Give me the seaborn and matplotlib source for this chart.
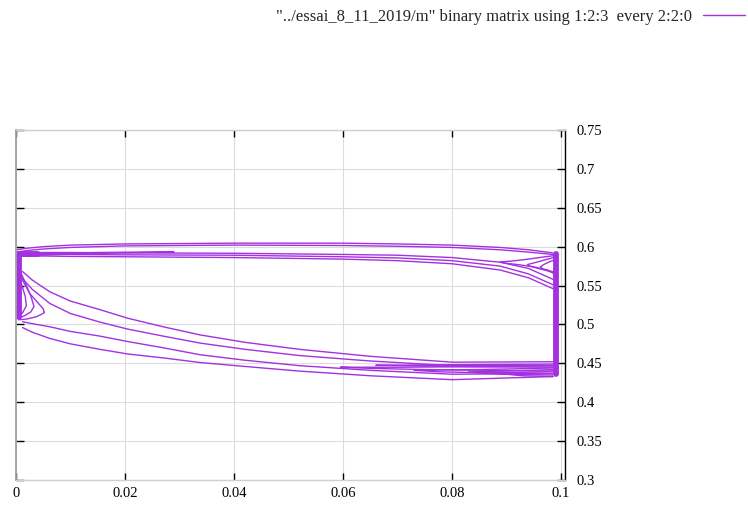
import numpy as np
import pandas as pd
import matplotlib
matplotlib.use("Agg")
import matplotlib.pyplot as plt
from matplotlib.lines import Line2D
import seaborn as sns

# --- Daten ---
legend_label = '"../essai_8_11_2019/m" binary matrix using 1:2:3  every 2:2:0'

x_ticks = [0.0, 0.02, 0.04, 0.06, 0.08, 0.1]
x_tick_labels = ["0", "0.02", "0.04", "0.06", "0.08", "0.1"]
y_ticks = [0.3, 0.35, 0.4, 0.45, 0.5, 0.55, 0.6, 0.65, 0.7, 0.75]
y_tick_labels = ["0.3", "0.35", "0.4", "0.45", "0.5", "0.55", "0.6", "0.65", "0.7", "0.75"]

# obere Kurven (gemeinsames x)
top_x = [0.0, 0.002, 0.005, 0.01, 0.02, 0.04, 0.06, 0.07, 0.08, 0.0888, 0.094, 0.0985]
top_1 = [0.596, 0.598, 0.600, 0.602, 0.6035, 0.6045, 0.6045, 0.6035, 0.602, 0.599, 0.596, 0.592]
top_2 = [0.593, 0.595, 0.597, 0.599, 0.601, 0.602, 0.6015, 0.6005, 0.599, 0.596, 0.593, 0.590]
top_3 = [0.592, 0.592, 0.5925, 0.5925, 0.592, 0.5915, 0.590, 0.589, 0.586, 0.580, 0.572, 0.558]
top_4 = [0.590, 0.590, 0.590, 0.590, 0.5895, 0.589, 0.587, 0.5855, 0.582, 0.575, 0.565, 0.551]
top_5 = [0.588, 0.588, 0.588, 0.5875, 0.587, 0.586, 0.584, 0.582, 0.578, 0.570, 0.560, 0.546]

# untere Kurven (gemeinsames x)
bottom_x = [0.0012, 0.003, 0.0062, 0.010, 0.0154, 0.0205, 0.027, 0.0338, 0.042, 0.052, 0.065, 0.08, 0.0985]
bottom_1 = [0.568, 0.557, 0.542, 0.530, 0.519, 0.508, 0.497, 0.4865, 0.477, 0.468, 0.459, 0.4515, 0.452]
bottom_2 = [0.559, 0.545, 0.527, 0.514, 0.503, 0.494, 0.485, 0.476, 0.468, 0.460, 0.453, 0.447, 0.447]
bottom_3 = [0.5035, 0.501, 0.497, 0.491, 0.485, 0.478, 0.470, 0.461, 0.454, 0.447, 0.441, 0.436, 0.437]
bottom_4 = [0.496, 0.490, 0.482, 0.475, 0.468, 0.462, 0.457, 0.451, 0.446, 0.440, 0.434, 0.429, 0.433]

# Schleifen links an der Wand
loop_l1_x = [0.0005, 0.002, 0.0038, 0.0052, 0.0050, 0.0040, 0.0025, 0.0012, 0.0005]
loop_l1_y = [0.506, 0.507, 0.510, 0.515, 0.520, 0.528, 0.540, 0.557, 0.572]
loop_l2_x = [0.0005, 0.0015, 0.0027, 0.0033, 0.0028, 0.0018, 0.0008]
loop_l2_y = [0.508, 0.511, 0.516, 0.523, 0.535, 0.552, 0.568]
loop_l3_x = [0.0005, 0.0012, 0.0019, 0.0017, 0.0010, 0.0005]
loop_l3_y = [0.510, 0.515, 0.524, 0.536, 0.552, 0.565]

# Ausläufer oben links
spur_top_x = [0.001, 0.008, 0.015, 0.022, 0.029, 0.022, 0.015, 0.008, 0.001]
spur_top_y = [0.590, 0.5915, 0.5925, 0.593, 0.593, 0.5923, 0.5915, 0.590, 0.588]

# Ausläufer oben rechts
spur_r1_x = [0.0993, 0.0965, 0.094, 0.091, 0.0888, 0.0895, 0.092, 0.095, 0.0975, 0.0985]
spur_r1_y = [0.589, 0.5865, 0.584, 0.5815, 0.5805, 0.579, 0.577, 0.574, 0.570, 0.566]
spur_r2_x = [0.0993, 0.0975, 0.0955, 0.0938, 0.0942, 0.0958, 0.0975, 0.0987]
spur_r2_y = [0.587, 0.584, 0.580, 0.577, 0.575, 0.572, 0.569, 0.566]
spur_r3_x = [0.0993, 0.0980, 0.0968, 0.0962, 0.0967, 0.0978, 0.0989]
spur_r3_y = [0.584, 0.581, 0.577, 0.574, 0.571, 0.569, 0.567]

# Ausläufer unten rechts
spur_b1_x = [0.0985, 0.09, 0.08, 0.07, 0.0595, 0.065, 0.075, 0.087, 0.0985]
spur_b1_y = [0.447, 0.446, 0.4455, 0.445, 0.445, 0.4435, 0.442, 0.441, 0.440]
spur_b2_x = [0.0985, 0.092, 0.085, 0.078, 0.073, 0.078, 0.085, 0.092, 0.0985]
spur_b2_y = [0.444, 0.443, 0.442, 0.4415, 0.441, 0.439, 0.438, 0.4375, 0.437]
spur_b3_x = [0.0985, 0.094, 0.09, 0.086, 0.083, 0.086, 0.09, 0.094, 0.0985]
spur_b3_y = [0.442, 0.441, 0.440, 0.4395, 0.439, 0.437, 0.436, 0.4355, 0.435]
spur_b4_x = [0.0985, 0.085, 0.075, 0.066, 0.075, 0.085, 0.0985]
spur_b4_y = [0.449, 0.4485, 0.448, 0.4475, 0.4465, 0.4455, 0.445]
spur_b5_x = [0.0985, 0.093, 0.0875, 0.093, 0.0985]
spur_b5_y = [0.4395, 0.4385, 0.4375, 0.434, 0.433]

# dicke "Wände" (viele übereinanderliegende Linien)
wall_left_x = [0.004, 0.0006, 0.0006]
wall_left_y = [0.5905, 0.5905, 0.509]
wall_right_x = [0.099, 0.099]
wall_right_y = [0.436, 0.590]

PURPLE = "#a331e0"

curves = {
    "top_1": (top_x, top_1), "top_2": (top_x, top_2), "top_3": (top_x, top_3),
    "top_4": (top_x, top_4), "top_5": (top_x, top_5),
    "bottom_1": (bottom_x, bottom_1), "bottom_2": (bottom_x, bottom_2),
    "bottom_3": (bottom_x, bottom_3), "bottom_4": (bottom_x, bottom_4),
    "loop_l1": (loop_l1_x, loop_l1_y), "loop_l2": (loop_l2_x, loop_l2_y),
    "loop_l3": (loop_l3_x, loop_l3_y), "spur_top": (spur_top_x, spur_top_y),
    "spur_r1": (spur_r1_x, spur_r1_y), "spur_r2": (spur_r2_x, spur_r2_y),
    "spur_r3": (spur_r3_x, spur_r3_y), "spur_b1": (spur_b1_x, spur_b1_y),
    "spur_b2": (spur_b2_x, spur_b2_y), "spur_b3": (spur_b3_x, spur_b3_y),
    "spur_b4": (spur_b4_x, spur_b4_y), "spur_b5": (spur_b5_x, spur_b5_y),
}
df = pd.concat([pd.DataFrame({"x": cx, "y": cy, "curve": name})
                for name, (cx, cy) in curves.items()], ignore_index=True)
walls = pd.concat([pd.DataFrame({"x": wall_left_x, "y": wall_left_y, "curve": "left"}),
                   pd.DataFrame({"x": wall_right_x, "y": wall_right_y, "curve": "right"})],
                  ignore_index=True)

# --- Diagramm ---
sns.set_theme(style="white")
plt.rcParams['font.family'] = ['Liberation Serif', 'DejaVu Serif']

fig = plt.figure(figsize=(7.48, 5.09), dpi=100)
ax = fig.add_axes([16 / 748, 1 - 480 / 509, (565 - 16) / 748, 350 / 509])

sns.lineplot(data=df, x="x", y="y", units="curve", estimator=None, sort=False,
             color=PURPLE, lw=1.0, ax=ax, legend=False)
sns.lineplot(data=walls, x="x", y="y", units="curve", estimator=None, sort=False,
             color=PURPLE, lw=4.2, ax=ax, legend=False)

ax.set_xlim(0, 0.1007)
ax.set_ylim(0.3, 0.75)
ax.set_xticks(x_ticks)
ax.set_xticklabels(x_tick_labels)
ax.set_yticks(y_ticks)
ax.set_yticklabels(y_tick_labels)
ax.set_xlabel("")
ax.set_ylabel("")
ax.grid(True, color="#dcdcdc", lw=0.8)
ax.set_axisbelow(True)

ax.spines["left"].set_color("#a0a0a0")
ax.spines["left"].set_linewidth(1.3)
ax.spines["right"].set_color("black")
ax.spines["right"].set_linewidth(1.0)
for s in ["top", "bottom"]:
    ax.spines[s].set_color("#cfcfcf")
    ax.spines[s].set_linewidth(1.0)

ax.tick_params(axis="x", direction="in", top=True, bottom=True, length=5, width=1,
               color="black", labelsize=10.5, pad=5, labelcolor="black")
ax.tick_params(axis="y", direction="in", left=True, right=True, labelleft=False,
               labelright=True, length=6, width=1, color="black", labelsize=10.5,
               pad=8, labelcolor="black")

ax.legend(handles=[Line2D([], [], color=PURPLE, lw=1.0)], labels=[legend_label],
          loc="upper right", bbox_to_anchor=(745 / 748, 1 - 9 / 509),
          bbox_transform=fig.transFigure, frameon=False, markerfirst=False,
          handlelength=2.5, handletextpad=0.65, borderpad=0, borderaxespad=0,
          fontsize=12)

fig.savefig("out.png", dpi=100)
